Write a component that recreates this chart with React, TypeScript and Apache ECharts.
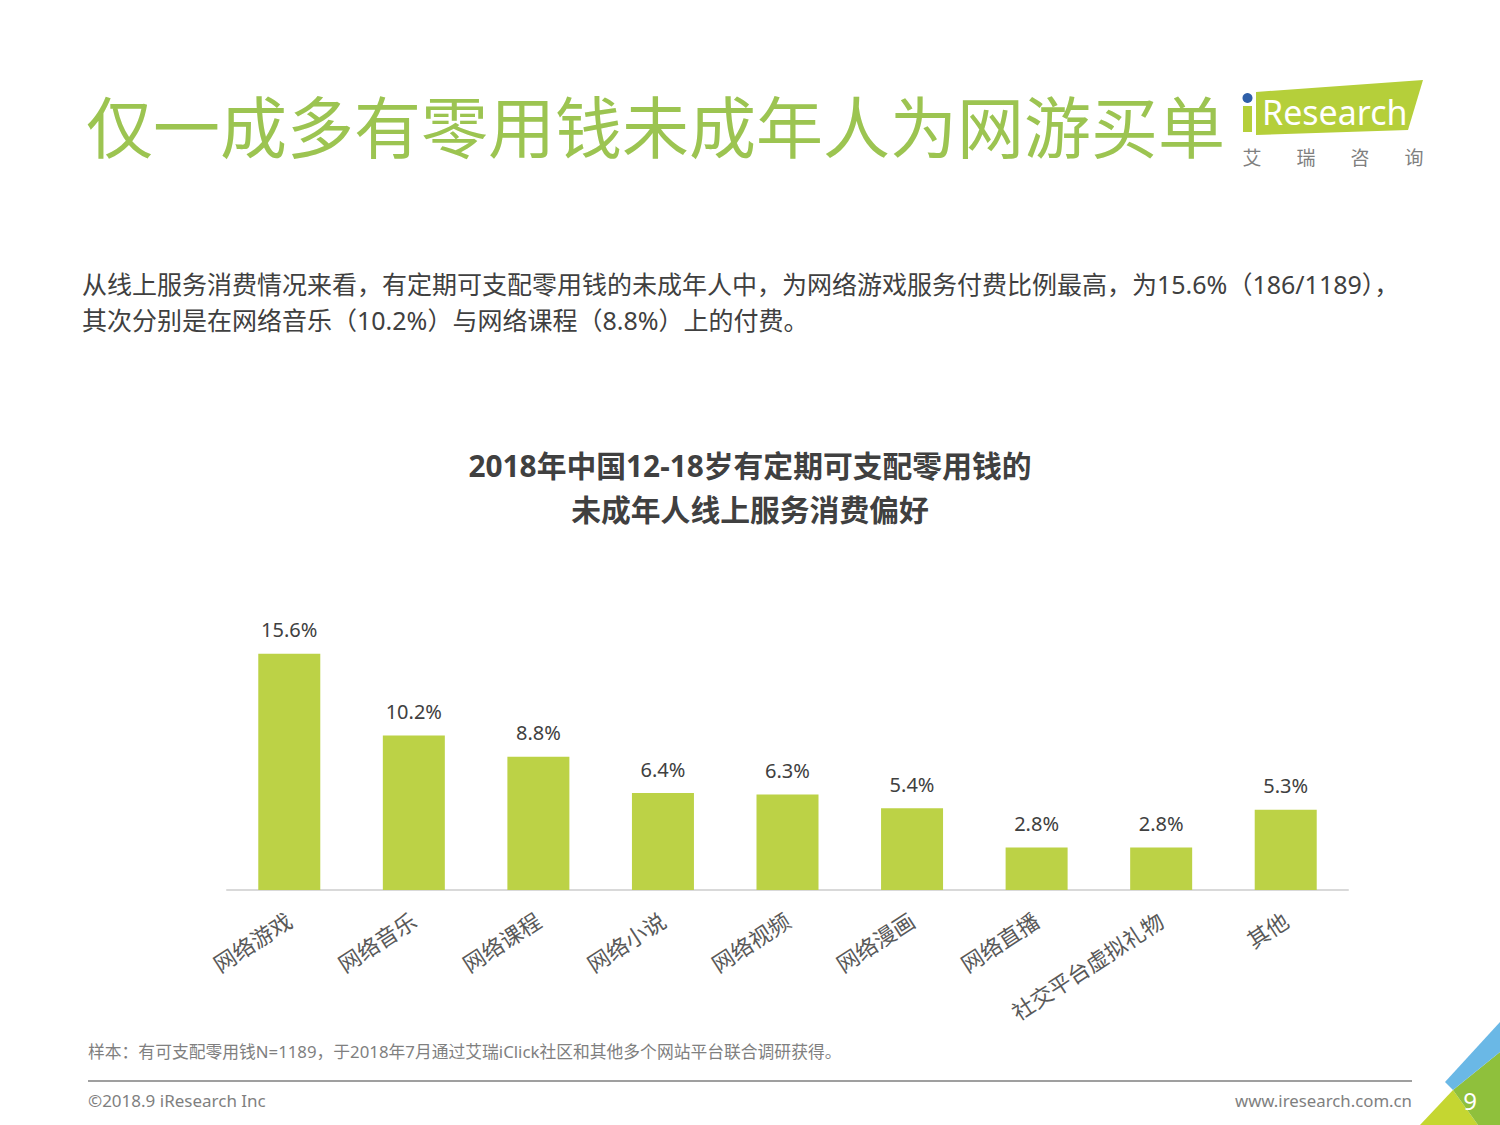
import React, { useEffect, useRef } from "react";
import * as echarts from "echarts";

const categories = ["网络游戏", "网络音乐", "网络课程", "网络小说", "网络视频", "网络漫画", "网络直播", "社交平台虚拟礼物", "其他"];
const values = [15.6, 10.2, 8.8, 6.4, 6.3, 5.4, 2.8, 2.8, 5.3];

const pageTitle = "仅一成多有零用钱未成年人为网游买单";
const descLines = [
  "从线上服务消费情况来看，有定期可支配零用钱的未成年人中，为网络游戏服务付费比例最高，为15.6%（186/1189），",
  "其次分别是在网络音乐（10.2%）与网络课程（8.8%）上的付费。",
];
const chartTitleLines = ["2018年中国12-18岁有定期可支配零用钱的", "未成年人线上服务消费偏好"];
const footnote = "样本：有可支配零用钱N=1189，于2018年7月通过艾瑞iClick社区和其他多个网站平台联合调研获得。";
const copyright = "©2018.9 iResearch Inc";
const website = "www.iresearch.com.cn";
const pageNo = "9";
const logoCn = ["艾", "瑞", "咨", "询"];

const FONT = "'Noto Sans', 'Noto Sans CJK SC', sans-serif";

export default function App() {
  const ref = useRef<HTMLDivElement>(null);
  useEffect(() => {
    if (!ref.current) return;
    const chart = echarts.init(ref.current, undefined, { renderer: "svg" });
    const graphics: any[] = [
      {
        type: "text",
        x: 86,
        y: 127,
        style: { text: pageTitle, fill: "#9cc451", font: `400 67px ${FONT}`, verticalAlign: "middle" },
      },
      // logo
      {
        type: "polygon",
        shape: { points: [[1256, 92], [1423, 80], [1408, 130], [1256, 135]] },
        style: { fill: "#b5cf3a" },
      },
      { type: "rect", shape: { x: 1243, y: 106, width: 9, height: 26 }, style: { fill: "#b5cf3a" } },
      { type: "circle", shape: { cx: 1247.5, cy: 98, r: 5 }, style: { fill: "#2f5fa8" } },
      {
        type: "text",
        x: 1262,
        y: 112,
        style: { text: "Research", fill: "#ffffff", font: `400 34px ${FONT}`, verticalAlign: "middle" },
      },
      ...logoCn.map((c, i) => ({
        type: "text",
        x: 1252 + i * 54,
        y: 158,
        style: { text: c, fill: "#7f7f7f", font: `400 19px ${FONT}`, align: "center", verticalAlign: "middle" },
      })),
      ...descLines.map((t, i) => ({
        type: "text",
        x: 82,
        y: 284 + i * 36,
        style: { text: t, fill: "#404040", font: `400 25px ${FONT}`, verticalAlign: "middle" },
      })),
      ...chartTitleLines.map((t, i) => ({
        type: "text",
        x: 750,
        y: 465 + i * 44,
        style: { text: t, fill: "#404040", font: `700 29.8px ${FONT}`, align: "center", verticalAlign: "middle" },
      })),
      {
        type: "text",
        x: 88,
        y: 1051,
        style: { text: footnote, fill: "#7f7f7f", font: `400 16.8px ${FONT}`, verticalAlign: "middle" },
      },
      { type: "line", shape: { x1: 88, y1: 1081, x2: 1412, y2: 1081 }, style: { stroke: "#7f7f7f", lineWidth: 1.5 } },
      {
        type: "text",
        x: 88,
        y: 1100,
        style: { text: copyright, fill: "#7f7f7f", font: `400 17px ${FONT}`, verticalAlign: "middle" },
      },
      {
        type: "text",
        x: 1412,
        y: 1100,
        style: { text: website, fill: "#7f7f7f", font: `400 16.8px ${FONT}`, align: "right", verticalAlign: "middle" },
      },
      // corner
      {
        type: "polygon",
        shape: { points: [[1420, 1125], [1453, 1090], [1478, 1125]] },
        style: { fill: "#c5d631" },
      },
      {
        type: "polygon",
        shape: { points: [[1453, 1090], [1500, 1052], [1500, 1125], [1478, 1125]] },
        style: { fill: "#8fc03c" },
      },
      {
        type: "polygon",
        shape: { points: [[1445, 1082], [1500, 1022], [1500, 1052], [1453, 1090]] },
        style: { fill: "#6ab8e6" },
      },
      {
        type: "text",
        x: 1470,
        y: 1100,
        style: { text: pageNo, fill: "#ffffff", font: `400 24px ${FONT}`, align: "center", verticalAlign: "middle" },
      },
    ];

    chart.setOption({
      animation: false,
      backgroundColor: "#ffffff",
      grid: { left: 227, right: 152, top: 587, height: 303 },
      xAxis: {
        type: "category",
        data: categories,
        axisLine: { lineStyle: { color: "#d9d9d9", width: 2 } },
        axisTick: { show: false },
        axisLabel: {
          rotate: 33,
          margin: 28,
          interval: 0,
          color: "#595959",
          fontSize: 22,
          fontFamily: FONT,
        },
      },
      yAxis: {
        type: "value",
        min: 0,
        max: 20,
        show: false,
        splitLine: { show: false },
      },
      series: [
        {
          type: "bar",
          data: values,
          barWidth: 62,
          itemStyle: { color: "#bcd246" },
          label: {
            show: true,
            position: "top",
            distance: 14,
            formatter: (p: any) => `${p.value.toFixed(1)}%`,
            color: "#404040",
            fontSize: 20,
            fontFamily: FONT,
          },
        },
      ],
      graphic: graphics,
    });
    return () => chart.dispose();
  }, []);
  return <div ref={ref} style={{ position: "absolute", left: 0, top: 0, width: 1500, height: 1125 }} />;
}
